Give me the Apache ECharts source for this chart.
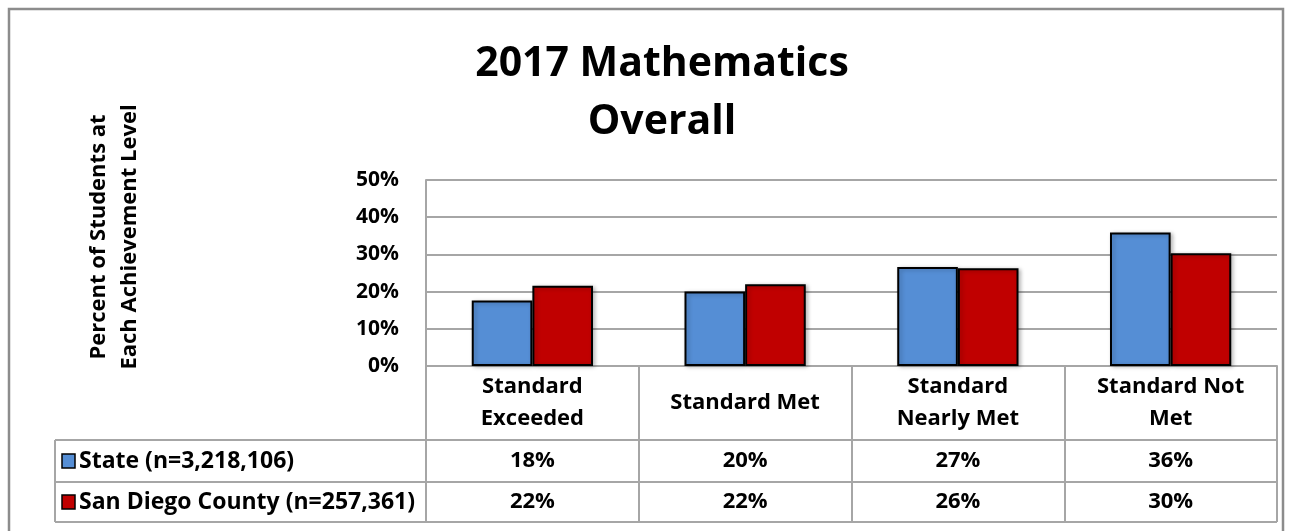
<!DOCTYPE html>
<html>
<head>
<meta charset="utf-8">
<script src="https://cdn.jsdelivr.net/npm/echarts@6/dist/echarts.min.js"></script>
<style>
  html, body { margin: 0; padding: 0; background: #fff; }
  #chart { width: 1294px; height: 531px; }
</style>
</head>
<body>
<div id="chart"></div>
<script>
// data
const categories = ["Standard\nExceeded", "Standard Met", "Standard\nNearly Met", "Standard Not\nMet"]
const stateValues = [17.6, 20.0, 26.6, 35.9]
const countyValues = [21.6, 22.0, 26.3, 30.3]
const stateLabels = ["18%", "20%", "27%", "36%"]
const countyLabels = ["22%", "22%", "26%", "30%"]
const seriesNames = ["State (n=3,218,106)", "San Diego County (n=257,361)"]
const seriesColors = ["#558ED5", "#C00000"]

// layout
const FONT = "'Open Sans', 'Noto Sans', sans-serif"
const plotLeft = 426
const plotRight = 1277
const plotTop = 180
const plotBottom = 366
const tableLeft = 55
const rowLines = [440, 482, 522]
const gridColor = "#a6a6a6"

const myChart = echarts.init(document.getElementById("chart"))

const colW = (plotRight - plotLeft) / categories.length
const colCenter = (i) => plotLeft + colW * (i + 0.5)

// frame, table lines, y axis title
const graphics = [
  { type: "polyline", shape: { points: [[9, 540], [9, 9], [1283, 9], [1283, 540]] },
    style: { stroke: "#8c8c8c", lineWidth: 2.5, fill: null }, silent: true },
  ...rowLines.map((y) => ({
    type: "line", shape: { x1: tableLeft, y1: y, x2: plotRight, y2: y },
    style: { stroke: gridColor, lineWidth: 2 }, silent: true,
  })),
  { type: "line", shape: { x1: tableLeft, y1: rowLines[0], x2: tableLeft, y2: rowLines[2] },
    style: { stroke: gridColor, lineWidth: 2 }, silent: true },
  {
    type: "text", x: 114, y: 237, rotation: Math.PI / 2,
    style: {
      text: "Percent of Students at\nEach Achievement Level",
      font: "bold 22px " + FONT, lineHeight: 31, fill: "#000",
      align: "center", verticalAlign: "middle",
    },
    silent: true,
  },
]

const rowCenters = [(rowLines[0] + rowLines[1]) / 2, (rowLines[1] + rowLines[2]) / 2]
const rowLabelSets = [stateLabels, countyLabels]
seriesNames.forEach((name, r) => {
  graphics.push({
    type: "rect", shape: { x: 62, y: rowCenters[r] - 7, width: 13, height: 14 },
    style: { fill: seriesColors[r], stroke: "#000", lineWidth: 1.5 }, silent: true,
  })
  graphics.push({
    type: "text", x: 79, y: rowCenters[r],
    style: { text: name, font: "bold 23px " + FONT, fill: "#000", verticalAlign: "middle", align: "left" },
    silent: true,
  })
  rowLabelSets[r].forEach((lbl, i) => {
    graphics.push({
      type: "text", x: colCenter(i), y: rowCenters[r],
      style: { text: lbl, font: "bold 22px " + FONT, fill: "#000", verticalAlign: "middle", align: "center" },
      silent: true,
    })
  })
})

const barStyle = (color) => ({
  color: color,
  borderColor: "#000",
  borderWidth: 2,
  shadowColor: "rgba(0,0,0,0.25)",
  shadowBlur: 4,
  shadowOffsetX: 2,
  shadowOffsetY: 1,
})

const option = {
  animation: false,
  title: {
    text: "2017 Mathematics\nOverall",
    left: 657,
    textAlign: "center",
    top: 30,
    textStyle: { fontFamily: FONT, fontWeight: "bold", fontSize: 41, lineHeight: 58, color: "#000" },
  },
  grid: {
    left: plotLeft,
    right: 1294 - plotRight,
    top: plotTop,
    bottom: 531 - plotBottom,
  },
  xAxis: {
    type: "category",
    data: categories,
    axisLine: { lineStyle: { color: gridColor, width: 2 } },
    axisTick: { show: true, length: rowLines[2] - plotBottom, lineStyle: { color: gridColor, width: 2 } },
    axisLabel: {
      interval: 0,
      margin: 37,
      verticalAlign: "middle",
      fontFamily: FONT,
      fontWeight: "bold",
      fontSize: 22,
      lineHeight: 32,
      color: "#000",
    },
  },
  yAxis: {
    type: "value",
    min: 0,
    max: 50,
    interval: 10,
    axisLine: { show: true, lineStyle: { color: gridColor, width: 2 } },
    axisTick: { show: false },
    splitLine: { lineStyle: { color: gridColor, width: 2 } },
    axisLabel: {
      formatter: "{value}%",
      margin: 27,
      fontFamily: FONT,
      fontWeight: "bold",
      fontSize: 21,
      color: "#000",
    },
  },
  series: [
    {
      name: seriesNames[0],
      type: "bar",
      data: stateValues,
      barGap: "0%",
      barCategoryGap: "43%",
      itemStyle: barStyle(seriesColors[0]),
    },
    {
      name: seriesNames[1],
      type: "bar",
      data: countyValues,
      itemStyle: barStyle(seriesColors[1]),
    },
  ],
  graphic: graphics,
}

myChart.setOption(option)
</script>
</body>
</html>
